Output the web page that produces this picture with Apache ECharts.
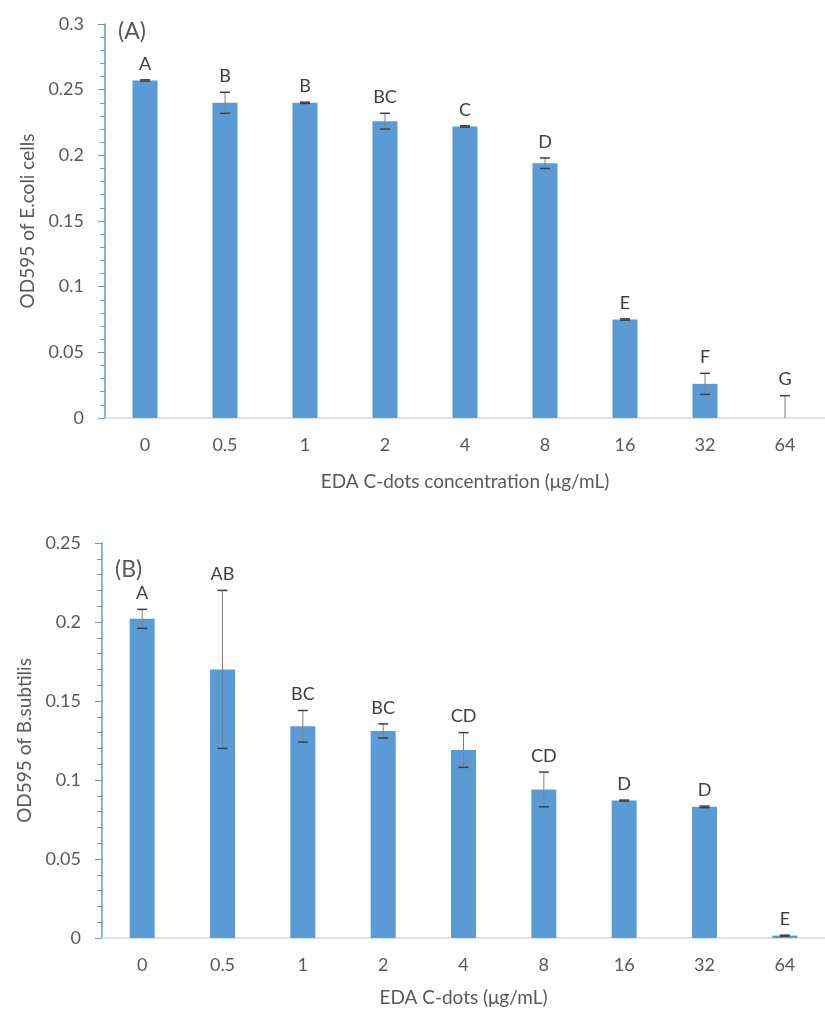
<!DOCTYPE html>
<html>
<head>
<meta charset="utf-8">
<script src="https://cdn.jsdelivr.net/npm/echarts@6/dist/echarts.min.js"></script>
<style>
  html, body { margin: 0; padding: 0; background: #fff; }
  #chart { width: 825px; height: 1015px; }
</style>
</head>
<body>
<div id="chart"></div>
<script>
// Concentrations of EDA C-dots (µg/mL)
const concentrations = ['0', '0.5', '1', '2', '4', '8', '16', '32', '64'];

// (A) E. coli growth, OD595 mean and standard deviation
const ecoliMean = [0.257, 0.240, 0.240, 0.226, 0.222, 0.194, 0.075, 0.026, 0];
const ecoliErr  = [0.0005, 0.008, 0.0005, 0.006, 0.0005, 0.004, 0.0005, 0.008, 0.017];
const ecoliGroups = ['A', 'B', 'B', 'BC', 'C', 'D', 'E', 'F', 'G'];

// (B) B. subtilis growth, OD595 mean and standard deviation
const bsubMean = [0.202, 0.170, 0.134, 0.131, 0.119, 0.094, 0.087, 0.083, 0.0015];
const bsubErr  = [0.006, 0.050, 0.010, 0.0045, 0.011, 0.011, 0.0003, 0.0005, 0.0003];
const bsubGroups = ['A', 'AB', 'BC', 'BC', 'CD', 'CD', 'D', 'D', 'E'];

const FONT = 'Lato';
const TEXT_COLOR = '#595959';
const BAR_COLOR = '#5B9BD5';

function errorRenderer(groups) {
  return function (params, api) {
    const i = api.value(0);
    const m = api.value(1);
    const e = api.value(2);
    const hi = api.coord([i, m + e]);
    const lo = api.coord([i, Math.max(0, m - e)]);
    const half = 5;
    const children = [
      { type: 'line', shape: { x1: hi[0], y1: hi[1], x2: lo[0], y2: lo[1] },
        style: { stroke: '#7f7f7f', lineWidth: 1 } },
      { type: 'line', shape: { x1: hi[0] - half, y1: hi[1], x2: hi[0] + half, y2: hi[1] },
        style: { stroke: '#404040', lineWidth: 1.5 } }
    ];
    if (m - e >= 0) {
      children.push({ type: 'line', shape: { x1: lo[0] - half, y1: lo[1], x2: lo[0] + half, y2: lo[1] },
        style: { stroke: '#404040', lineWidth: 1.5 } });
    }
    children.push({
      type: 'text',
      style: {
        text: groups[params.dataIndex], x: hi[0], y: hi[1] - 16,
        textAlign: 'center', textVerticalAlign: 'middle',
        align: 'center', verticalAlign: 'middle',
        fill: '#404040', font: '18px ' + FONT
      }
    });
    return { type: 'group', children: children };
  };
}

function errData(mean, err) {
  return mean.map((m, i) => [i, m, err[i]]);
}

function yAxisCfg(gridIndex, max, name) {
  return {
    type: 'value', gridIndex: gridIndex, min: 0, max: max, interval: 0.05,
    name: name, nameLocation: 'middle', nameGap: 68,
    nameTextStyle: { color: TEXT_COLOR, fontFamily: FONT, fontSize: 19 },
    axisLine: { show: true, lineStyle: { color: BAR_COLOR, width: 1.5 } },
    axisTick: { show: true, length: 7, lineStyle: { color: BAR_COLOR } },
    minorTick: { show: true, splitNumber: 5, length: 5, lineStyle: { color: BAR_COLOR } },
    splitLine: { show: false },
    axisLabel: { color: TEXT_COLOR, fontFamily: FONT, fontSize: 18, margin: 21 }
  };
}

function xAxisCfg(gridIndex, name, gap) {
  return {
    type: 'category', gridIndex: gridIndex, data: concentrations,
    name: name, nameLocation: 'middle', nameGap: gap,
    nameTextStyle: { color: TEXT_COLOR, fontFamily: FONT, fontSize: 19 },
    axisLine: { show: true, lineStyle: { color: '#d9d9d9', width: 1.5 } },
    axisTick: { show: false },
    axisLabel: { color: TEXT_COLOR, fontFamily: FONT, fontSize: 18, margin: 18 }
  };
}

const chart = echarts.init(document.getElementById('chart'), null, { renderer: 'canvas' });

chart.setOption({
  backgroundColor: '#ffffff',
  animation: false,
  grid: [
    { left: 105, top: 24, width: 730, height: 394 },
    { left: 102, top: 543, width: 729, height: 395 }
  ],
  xAxis: [
    xAxisCfg(0, 'EDA C-dots concentration (μg/mL)', 54),
    xAxisCfg(1, 'EDA C-dots (μg/mL)', 50)
  ],
  yAxis: [
    yAxisCfg(0, 0.3, 'OD595 of E.coli cells'),
    yAxisCfg(1, 0.25, 'OD595 of B.subtilis')
  ],
  graphic: [
    { type: 'text', left: 118, top: 20,
      style: { text: '(A)', fill: TEXT_COLOR, font: '23px ' + FONT } },
    { type: 'text', left: 115, top: 558,
      style: { text: '(B)', fill: TEXT_COLOR, font: '23px ' + FONT } }
  ],
  series: [
    { type: 'bar', xAxisIndex: 0, yAxisIndex: 0, data: ecoliMean, barWidth: 25,
      itemStyle: { color: BAR_COLOR } },
    { type: 'custom', xAxisIndex: 0, yAxisIndex: 0, data: errData(ecoliMean, ecoliErr),
      renderItem: errorRenderer(ecoliGroups), z: 5 },
    { type: 'bar', xAxisIndex: 1, yAxisIndex: 1, data: bsubMean, barWidth: 25,
      itemStyle: { color: BAR_COLOR } },
    { type: 'custom', xAxisIndex: 1, yAxisIndex: 1, data: errData(bsubMean, bsubErr),
      renderItem: errorRenderer(bsubGroups), z: 5 }
  ]
});
</script>
</body>
</html>
